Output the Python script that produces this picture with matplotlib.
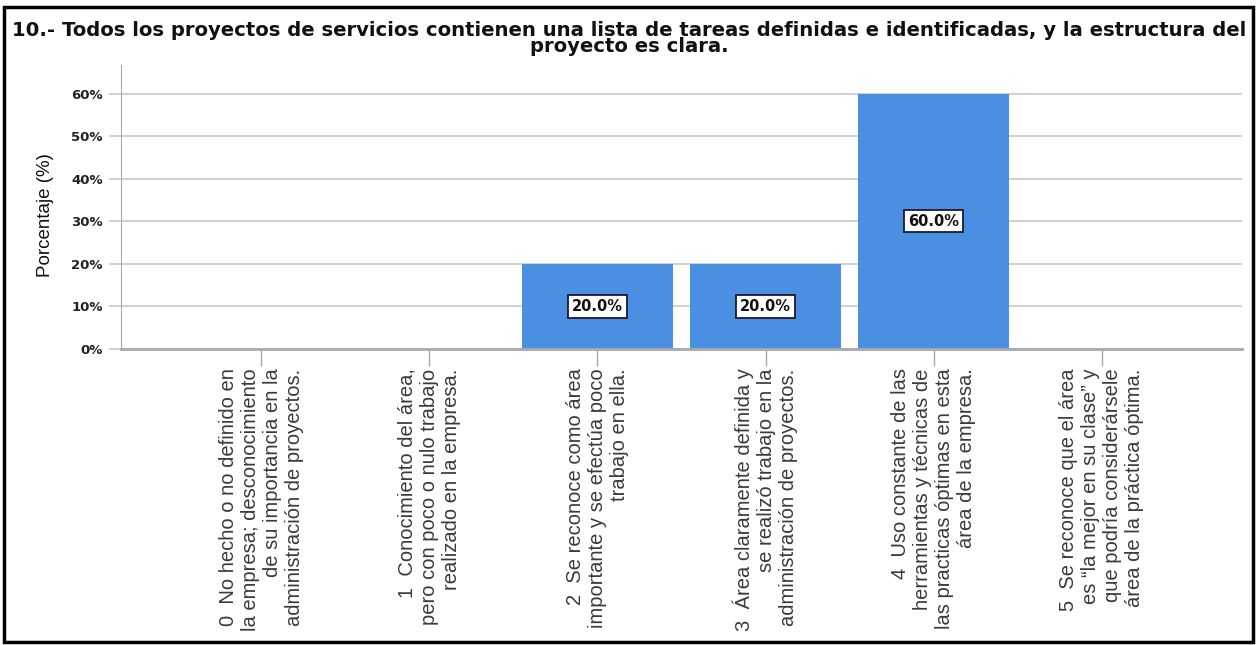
import matplotlib

matplotlib.use("Agg")
import matplotlib.pyplot as plt
from matplotlib.patches import Rectangle

titulo = ("10.- Todos los proyectos de servicios contienen una lista de tareas definidas e identificadas, "
          "y la estructura del\nproyecto es clara.")

categorias = [
    "0  No hecho o no definido en\nla empresa; desconocimiento\nde su importancia en la\nadministración de proyectos.",
    "1  Conocimiento del área,\npero con poco o nulo trabajo\nrealizado en la empresa.",
    "2  Se reconoce como área\nimportante y se efectúa poco\ntrabajo en ella.",
    "3  Área claramente definida y\nse realizó trabajo en la\nadministración de proyectos.",
    "4  Uso constante de las\nherramientas y técnicas de\nlas practicas óptimas en esta\nárea de la empresa.",
    "5  Se reconoce que el área\nes “la mejor en su clase” y\nque podría considerársele\nárea de la práctica óptima.",
]
porcentajes = [0.0, 0.0, 20.0, 20.0, 60.0, 0.0]
marcas_y = [0, 10, 20, 30, 40, 50, 60]

AZUL = "#4a8fe2"
GRIS = "#a9a9a9"

fig = plt.figure(figsize=(12.59, 6.45), dpi=100)
ax = fig.add_axes([0.0961, 0.4589, 0.8904, 0.4403])

pos = list(range(len(categorias)))
ax.bar(pos, porcentajes, width=0.9, color=AZUL, zorder=2)

for x, v in zip(pos, porcentajes):
    if v <= 0:
        continue
    ax.text(x, v / 2, f"{v:.1f}%", ha="center", va="center", fontsize=10.5,
            fontweight="bold", family="DejaVu Sans", color="#111111", zorder=3,
            bbox=dict(boxstyle="square,pad=0.25", fc="white", ec="#1a1a2a", lw=1.3))

ax.set_xlim(-0.836, 5.836)
ax.set_ylim(0, 66.7)
ax.set_yticks(marcas_y)
ax.set_yticklabels([f"{m}%" for m in marcas_y], fontsize=9.5, fontweight="bold",
                   family="DejaVu Sans", color="#222222")
ax.yaxis.grid(True, color="#c8c8c8", lw=1.2, zorder=0)
ax.set_axisbelow(True)
ax.tick_params(axis="y", length=9, color="#c8c8c8", width=1.2, pad=4)

ax.set_xticks(pos)
ax.set_xticklabels([])
ax.tick_params(axis="x", length=12, color=GRIS, width=1.0)
for x, etiqueta in zip(pos, categorias):
    ax.annotate(etiqueta, xy=(x, 0), xycoords=("data", "axes fraction"),
                xytext=(0, -14), textcoords="offset points",
                rotation=90, ha="center", va="top", multialignment="right",
                fontsize=14.5, color="#3a3a3a", family="Liberation Sans",
                linespacing=1.2)

for lado in ("top", "right"):
    ax.spines[lado].set_visible(False)
ax.spines["left"].set_color(GRIS)
ax.spines["bottom"].set_color(GRIS)
ax.spines["bottom"].set_linewidth(2.0)

fig.text(0.036, 0.667, "Porcentaje (%)", rotation=90, ha="center", va="center",
         fontsize=13.5, family="Liberation Sans", color="#111111")

fig.text(0.5, 0.968, titulo, ha="center", va="top", fontsize=14.1,
         fontweight="bold", family="DejaVu Sans", color="#111111",
         linespacing=0.82)

# marco negro alrededor de toda la figura
fig.patches.append(Rectangle((0.0032, 0.0047), 0.992, 0.984, transform=fig.transFigure,
                             fill=False, ec="black", lw=2.5))

fig.savefig("out.png", dpi=100)
